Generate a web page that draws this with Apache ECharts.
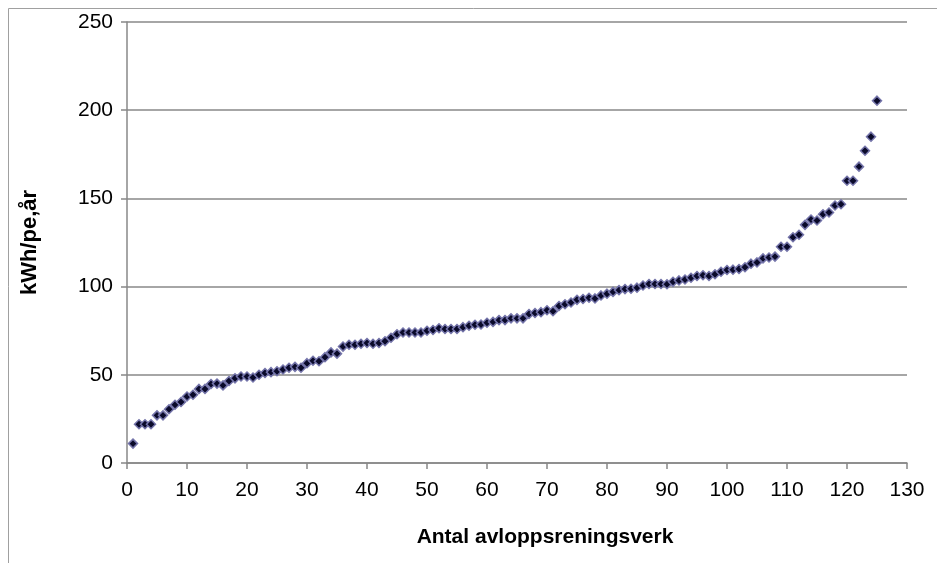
<!DOCTYPE html>
<html>
<head>
<meta charset="utf-8">
<script src="https://cdn.jsdelivr.net/npm/echarts@6/dist/echarts.min.js"></script>
<style>html,body{margin:0;padding:0;background:#fff;}#c{width:937px;height:563px;}</style>
</head>
<body>
<div id="c"></div>
<script>
var xTitle = 'Antal avloppsreningsverk';
var yTitle = 'kWh/pe,år';
var values = [11,22,22,22,27,27,30.5,33,34.6,37.7,38.7,42,42,44.8,45,44,46.5,48,49,49,
48.5,50,51,51.5,52,53,54,54.5,54,56.6,58,57.7,60,62.7,62,66,67,67,67.6,68,
67.6,68,69,71,73,74,74,74,74,75,75.4,76.4,76,76,76,77,77.8,78.4,78.5,79.5,
80,81,81,82,82,82,84.5,85,85.5,86.6,86,89,90,91,92.5,93,93.7,93.3,95,96,
97,98,98.6,98.8,99.4,100.6,101.5,101.5,101.5,101.3,102.7,103.5,104,105,106,106.4,106,107,108.4,109.4,
109.6,110,111,113,113.7,116,116.5,117,122.6,122.6,128,129.4,135,138,137.5,141,142,146,146.7,160,
160,168,177,185,205.4];
var data = values.map(function(v,i){return [i+1, v];});

var chart = echarts.init(document.getElementById('c'), null, {renderer:'canvas'});
var font = 'Liberation Sans, Arial, sans-serif';
chart.setOption({
  animation:false,
  graphic:[{type:'rect', shape:{x:8.5,y:8.5,width:1200,height:1200}, style:{fill:'none', stroke:'#a0a0a0', lineWidth:1}, silent:true}],
  grid:{left:127, right:30, top:22, bottom:100},
  xAxis:{
    type:'value', min:0, max:130, interval:10,
    name:xTitle, nameLocation:'middle', nameGap:64,
    nameTextStyle:{fontFamily:font, fontSize:21, fontWeight:'bold', color:'#000', padding:[0,0,0,56]},
    axisLine:{show:true, lineStyle:{color:'#888', width:1.5}},
    axisTick:{show:true, length:6, lineStyle:{color:'#888', width:1.5}},
    axisLabel:{fontFamily:font, fontSize:21, color:'#000', margin:17},
    splitLine:{show:false}
  },
  yAxis:{
    type:'value', min:0, max:250, interval:50,
    name:yTitle, nameLocation:'middle', nameGap:86,
    nameTextStyle:{fontFamily:font, fontSize:22, fontWeight:'bold', color:'#000'},
    axisLine:{show:true, lineStyle:{color:'#888', width:1.5}},
    axisTick:{show:true, length:6, lineStyle:{color:'#888', width:1.5}},
    axisLabel:{fontFamily:font, fontSize:21, color:'#000', margin:14},
    splitLine:{show:true, lineStyle:{color:'#888', width:1.5}}
  },
  series:[{
    type:'scatter', data:data, symbol:'diamond', symbolSize:9,
    itemStyle:{color:'#0a0a2a', borderColor:'#7474aa', borderWidth:1.5, opacity:1}
  }]
});
</script>
</body>
</html>
